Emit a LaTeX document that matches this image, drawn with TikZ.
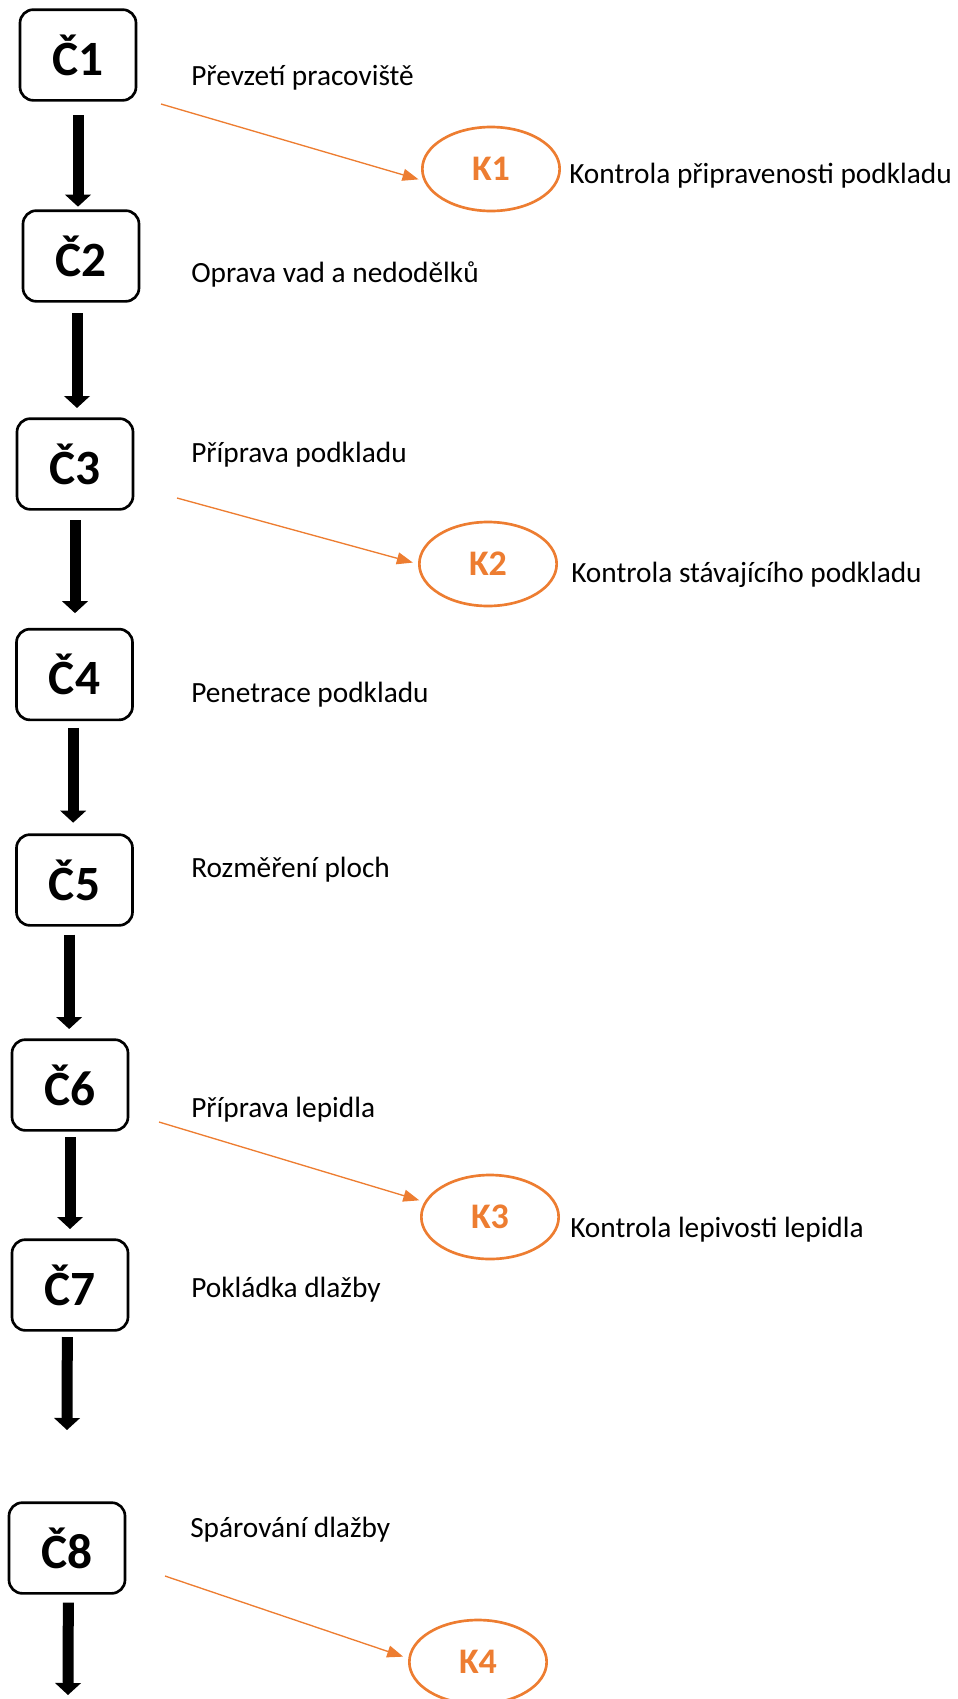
\documentclass[tikz,border=0pt]{standalone}
\usepackage{fontspec}
\setmainfont{Carlito}
\usepackage{xcolor}
\usepackage{tikz}
\usetikzlibrary{shapes,arrows.meta,calc}
\definecolor{korange}{HTML}{ED7D31}

\tikzset{
    krok/.style={draw, line width=2pt, rounded corners=10pt, minimum width=87pt, minimum height=68pt, inner sep=0pt, font=\fontsize{37}{42}\selectfont\bfseries},
    kontrola/.style={ellipse, draw=korange, line width=2pt, minimum width=103pt, minimum height=63pt, inner sep=0pt, text=korange, font=\fontsize{27}{32}\selectfont\bfseries},
    popis/.style={anchor=base west, inner sep=0pt, font=\fontsize{22}{26}\selectfont},
    tok/.style={line width=8.25pt, -{Triangle[width=19pt,length=9pt]}},
    vazba/.style={draw=korange, line width=1pt, shorten >=4pt, -{Triangle[width=9pt,length=12pt]}}
}

\begin{document}
\begin{tikzpicture}[x=0.75pt, y=-0.75pt]
    \useasboundingbox (0,0) rectangle (957,1699);

    % Steps
    \node[krok] (c1) at (78,55) {Č1};
    \node[krok] (c2) at (81,256) {Č2};
    \node[krok] (c3) at (75,464) {Č3};
    \node[krok] (c4) at (74.5,674.5) {Č4};
    \node[krok] (c5) at (74.5,880) {Č5};
    \node[krok] (c6) at (70,1085) {Č6};
    \node[krok] (c7) at (70,1285) {Č7};
    \node[krok] (c8) at (67,1548) {Č8};

    \node[popis] (p1) at (191,85) {Převzetí pracoviště};
    \node[popis] (p2) at (191,282) {Oprava vad a nedodělků};
    \node[popis] (p3) at (191,462) {Příprava podkladu};
    \node[popis] (p4) at (191,702) {Penetrace podkladu};
    \node[popis] (p5) at (191,877) {Rozměření ploch};
    \node[popis] (p6) at (191,1117) {Příprava lepidla};
    \node[popis] (p7) at (191,1297) {Pokládka dlažby};
    \node[popis] (p8) at (190,1537) {Spárování dlažby};

    % Flow
    \coordinate (konec7) at (67,1430);
    \coordinate (konec8) at (68,1699);
    \draw[tok] ([yshift=-10pt]c1.south) -- ([yshift=2pt]c1.south |- c2.north);
    \draw[tok] ([xshift=-3pt,yshift=-8pt]c2.south) -- ([xshift=-3pt,yshift=7pt]c2.south |- c3.north);
    \draw[tok] ([yshift=-7pt]c3.south) -- ([yshift=11pt]c3.south |- c4.north);
    \draw[tok] ([xshift=-1pt,yshift=-5pt]c4.south) -- ([xshift=-1pt,yshift=8pt]c4.south |- c5.north);
    \draw[tok] ([xshift=-4pt,yshift=-6pt]c5.south) -- ([xshift=-4pt,yshift=7pt]c5.south |- c6.north);
    \draw[tok] ([yshift=-4pt]c6.south) -- ([yshift=7pt]c6.south |- c7.north);
    \draw[tok] ([xshift=-2pt,yshift=-4pt]c7.south) -- (konec7);
    \draw[tok] ([xshift=1pt,yshift=-6pt]c8.south) -- ([yshift=3pt]konec8);

    % Checks
    \node[kontrola] (k1) at (491,169) {K1};
    \node[kontrola] (k2) at (488,564) {K2};
    \node[kontrola] (k3) at (490,1217) {K3};
    \node[kontrola] (k4) at (478,1662) {K4};

    \node[popis] (q1) at (569,183) {Kontrola připravenosti podkladu};
    \node[popis] (q2) at (571,582) {Kontrola stávajícího podkladu};
    \node[popis] (q3) at (570,1237) {Kontrola lepivosti lepidla};

    \coordinate (z1) at (161,104);
    \coordinate (z2) at (177,498);
    \coordinate (z3) at (159,1122);
    \coordinate (z4) at (165,1576);
    \draw[vazba] (z1) -- (k1.190);
    \draw[vazba] (z2) -- (k2.west);
    \draw[vazba] (z3) -- (k3.167);
    \draw[vazba] (z4) -- (k4.177);
\end{tikzpicture}
\end{document}
